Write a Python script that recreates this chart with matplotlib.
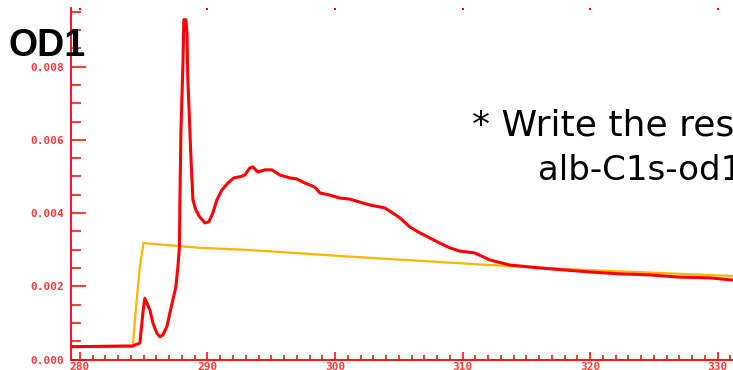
import matplotlib
matplotlib.use("Agg")
import matplotlib.pyplot as plt
from matplotlib.ticker import MultipleLocator, FormatStrFormatter, NullFormatter

# photon energy (eV) and optical density
red_energy = [279.3, 284.15, 284.70, 284.96, 285.09, 285.49, 285.72, 286.03,
              286.27, 286.50, 286.82, 287.05, 287.29, 287.52, 287.68, 287.80,
              287.84, 287.92, 288.07, 288.15, 288.31, 288.39, 288.46, 288.58,
              288.70, 288.86, 289.09, 289.40, 289.80, 290.11, 290.42, 290.74,
              291.13, 291.60, 292.07, 292.54, 292.93, 293.32, 293.56, 293.95,
              294.50, 295.05, 295.67, 296.46, 297.01, 297.63, 298.42, 298.81,
              299.59, 300.38, 301.16, 301.94, 302.73, 303.90, 304.53, 305.08,
              305.86, 306.65, 307.43, 308.21, 309.00, 309.78, 310.96, 312.13,
              313.70, 316.05, 319.97, 322.32, 324.67, 327.02, 329.37, 331.18]
red_od = [0.00035, 0.00037, 0.00045, 0.00135, 0.00167, 0.00135, 0.00100, 0.00072,
          0.00062, 0.00067, 0.00090, 0.00127, 0.00163, 0.00198, 0.00253, 0.00307,
          0.00436, 0.00627, 0.00799, 0.00928, 0.00928, 0.00892, 0.00764, 0.00663,
          0.00553, 0.00436, 0.00408, 0.00389, 0.00373, 0.00376, 0.00400, 0.00436,
          0.00463, 0.00482, 0.00496, 0.00499, 0.00504, 0.00523, 0.00526, 0.00512,
          0.00518, 0.00518, 0.00504, 0.00496, 0.00493, 0.00482, 0.00471, 0.00455,
          0.00449, 0.00441, 0.00438, 0.00430, 0.00422, 0.00414, 0.00400, 0.00387,
          0.00362, 0.00346, 0.00332, 0.00318, 0.00305, 0.00296, 0.00291, 0.00272,
          0.00258, 0.00250, 0.00239, 0.00234, 0.00231, 0.00225, 0.00223, 0.00217]

step_energy = [279.3, 284.15, 284.31, 284.47, 284.70, 284.98, 289.40, 293.32,
               301.16, 312.13, 319.42, 331.18]
step_od = [0.00035, 0.00035, 0.00108, 0.00171, 0.00253, 0.00318, 0.00305, 0.00299,
           0.00281, 0.00258, 0.00245, 0.00228]

red = '#ff0000'
orange = '#ffb400'
tick_red = '#ff3a3a'

fig = plt.figure(figsize=(7.33, 3.70), dpi=100)
ax = fig.add_axes([71 / 733, 10.5 / 370, 1 - 71 / 733, 351.5 / 370])

ax.plot(step_energy, step_od, color=orange, lw=1.6, zorder=2)
ax.plot(red_energy, red_od, color=red, lw=2.2, zorder=3)

ax.set_xlim(279.3, 331.2)
ax.set_ylim(0, 0.0096)

for side in ['top', 'right']:
    ax.spines[side].set_visible(False)
for side in ['left', 'bottom']:
    ax.spines[side].set_color(red)
    ax.spines[side].set_linewidth(1.3)

ax.xaxis.set_major_locator(MultipleLocator(10))
ax.xaxis.set_minor_locator(MultipleLocator(1))
ax.yaxis.set_major_locator(MultipleLocator(0.002))
ax.yaxis.set_minor_locator(MultipleLocator(0.0005))
ax.yaxis.set_major_formatter(FormatStrFormatter('%.3f'))

ax.tick_params(axis='y', which='major', direction='in', length=11, width=1.1,
               color=red, labelcolor=tick_red, pad=5)
ax.tick_params(axis='y', which='minor', direction='in', length=7, width=1.1, color=red)
ax.tick_params(axis='x', which='major', direction='in', length=6, width=1.1,
               color=red, labelcolor=tick_red, pad=2)
ax.tick_params(axis='x', which='minor', direction='in', length=3.5, width=1.1, color=red)

# only the tips of the top ticks show in the cropped picture
top = ax.secondary_xaxis('top')
top.spines['top'].set_visible(False)
top.xaxis.set_major_locator(MultipleLocator(10))
top.xaxis.set_major_formatter(NullFormatter())
top.tick_params(which='major', direction='in', length=1.5, width=1.5, color=red)
top.tick_params(which='minor', length=0)

for lab in ax.get_xticklabels() + ax.get_yticklabels():
    lab.set_fontfamily('DejaVu Sans Mono')
    lab.set_fontweight('bold')
    lab.set_fontsize(8)

fig.text(8 / 733, 1 - 56 / 370, 'OD1', fontsize=27, fontweight='bold',
         family='Liberation Sans', color='black', va='baseline', ha='left')
fig.text(472 / 733, 1 - 135 / 370, '* Write the res', fontsize=26,
         family='DejaVu Sans', color='black', va='baseline', ha='left')
fig.text(538 / 733, 1 - 180 / 370, 'alb-C1s-od1', fontsize=24.5,
         family='DejaVu Sans', color='black', va='baseline', ha='left')

fig.savefig('out.png', dpi=100)
